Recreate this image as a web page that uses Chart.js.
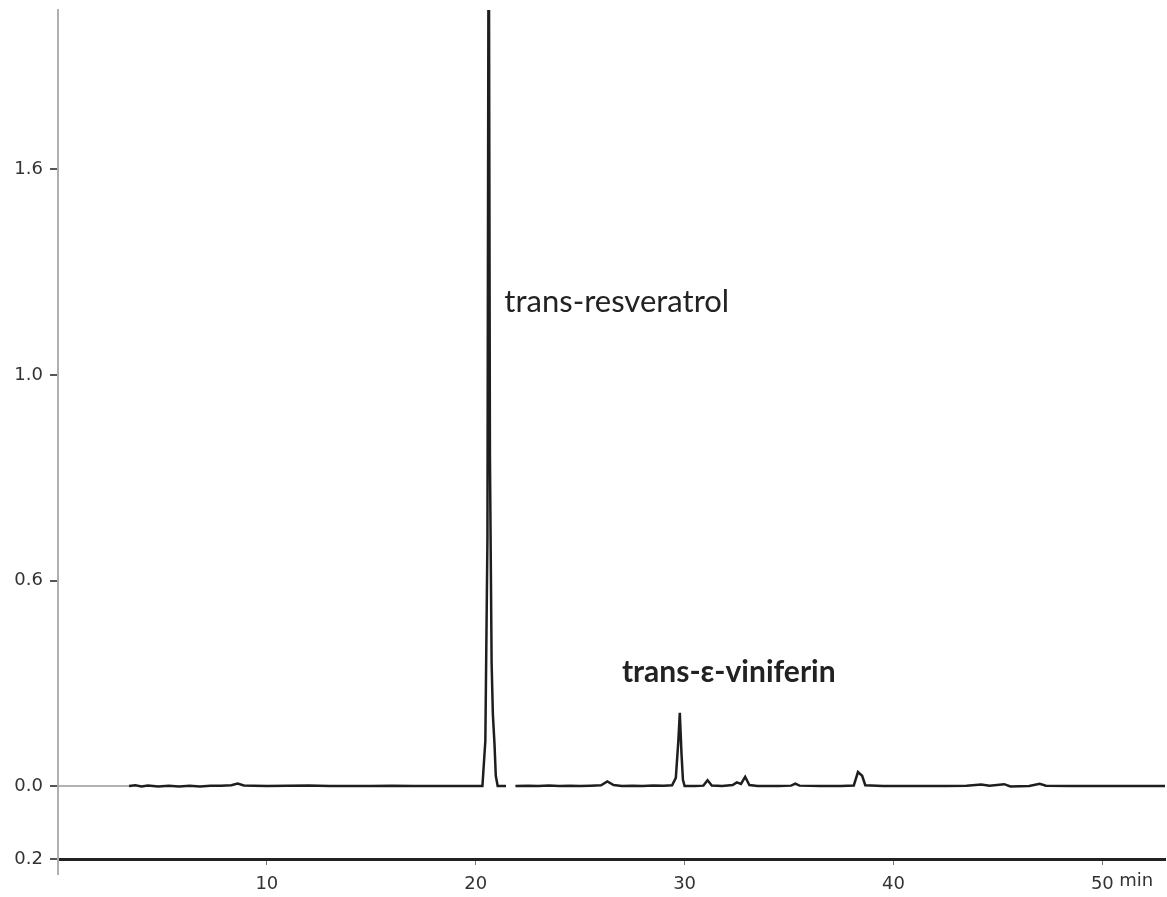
<!DOCTYPE html>
<html>
<head>
<meta charset="utf-8">
<script src="https://cdn.jsdelivr.net/npm/chart.js@4/dist/chart.umd.min.js"></script>
<style>
  body { margin: 0; background: #fff; }
  #wrap { width: 1167px; height: 897px; position: relative; }
</style>
</head>
<body>
<div id="wrap"><canvas id="chrom"></canvas></div>
<script>
// retention time (min) and detector signal, in y-axis divisions
// (the original axis is labelled 0.0 / 0.6 / 1.0 / 1.6 at equal spacing)
const timeMin = [
  3.4, 3.7, 4.0, 4.3, 4.8, 5.3, 5.8, 6.3, 6.8, 7.3, 7.8, 8.3, 8.6, 8.9, 9.4,
  10.0, 11.0, 12.0, 13.0, 14.0, 15.0, 16.0, 17.0, 18.0, 19.0, 20.0,
  20.32, 20.46, 20.56, 20.62, 20.68, 20.76, 20.82, 20.9, 20.96, 21.05, 21.45,
  21.65,
  21.9, 22.5, 23.0, 23.5, 24.0, 24.5, 25.0, 25.5, 26.0, 26.3, 26.6, 27.0, 27.5,
  28.0, 28.5, 29.0, 29.4, 29.58, 29.7, 29.77, 29.85, 29.92, 30.0, 30.5,
  30.9, 31.1, 31.3, 31.8, 32.3, 32.5, 32.7, 32.9, 33.1, 33.5, 34.5,
  35.1, 35.3, 35.5, 36.5, 37.5, 38.1, 38.3, 38.5, 38.65, 39.5, 41.0, 42.5,
  43.5, 44.2, 44.6, 45.3, 45.6, 46.5, 47.0, 47.3, 48.5, 50.0, 51.5, 53.0
];
const signal = [
  0.0, 0.004, -0.002, 0.003, -0.002, 0.002, -0.002, 0.002, -0.002, 0.002, 0.002, 0.004, 0.012, 0.003, 0.002,
  0.0, 0.002, 0.003, 0.0, 0.0, 0.0, 0.002, 0.0, 0.0, 0.0, 0.0,
  0.0, 0.22, 1.2, 4.6, 1.6, 0.6, 0.35, 0.2, 0.05, 0.0, 0.0,
  null,
  0.0, 0.002, 0.0, 0.003, 0.0, 0.002, 0.0, 0.002, 0.004, 0.022, 0.005, 0.0, 0.002,
  0.0, 0.003, 0.002, 0.004, 0.04, 0.22, 0.356, 0.16, 0.03, 0.0, 0.0,
  0.002, 0.028, 0.003, 0.0, 0.005, 0.018, 0.01, 0.045, 0.005, 0.0, 0.0,
  0.002, 0.012, 0.002, 0.0, 0.0, 0.003, 0.068, 0.05, 0.004, 0.0, 0.0, 0.0,
  0.002, 0.008, 0.002, 0.009, -0.002, 0.0, 0.011, 0.002, 0.0, 0.0, 0.0, 0.0
];
// grey baseline before the trace starts
const baseTime = [0, 3.4];
const baseSignal = [0, 0];

const xTicks = [10, 20, 30, 40, 50];
const yTickPos = [-0.355, 0, 1, 2, 3];
const yTickLabels = ['0.2', '0.0', '0.6', '1.0', '1.6'];

const peakLabels = [
  { text: 'trans-resveratrol', x: 21.37, y: 2.355, bold: false },
  { text: 'trans-\u03b5-viniferin', x: 27.0, y: 0.555, bold: true }
];

const extras = {
  id: 'extras',
  afterDraw(chart) {
    const { ctx, scales: { x, y }, chartArea } = chart;
    ctx.save();
    // y axis runs a little past the time axis
    ctx.strokeStyle = '#b0b0b0';
    ctx.lineWidth = 2;
    ctx.beginPath();
    ctx.moveTo(chartArea.left, chartArea.bottom);
    ctx.lineTo(chartArea.left, chartArea.bottom + 16);
    ctx.stroke();
    // unit after the last tick
    ctx.fillStyle = '#333';
    ctx.font = '18px "DejaVu Sans"';
    ctx.textBaseline = 'middle';
    ctx.textAlign = 'left';
    ctx.fillText('min', x.getPixelForValue(50) + 17, chartArea.bottom + 22);
    // peak names
    ctx.fillStyle = '#222';
    peakLabels.forEach(p => {
      ctx.font = (p.bold ? 'bold 30px' : '31px') + ' Lato, "Open Sans", sans-serif';
      ctx.fillText(p.text, x.getPixelForValue(p.x), y.getPixelForValue(p.y));
    });
    ctx.restore();
  }
};

new Chart(document.getElementById('chrom'), {
  type: 'line',
  data: {
    datasets: [
      {
        label: 'baseline',
        data: baseTime.map((t, i) => ({ x: t, y: baseSignal[i] })),
        borderColor: '#9a9a9a',
        borderWidth: 1.5,
        pointRadius: 0
      },
      {
        label: 'signal',
        data: timeMin.map((t, i) => ({ x: t, y: signal[i] })),
        borderColor: '#1e1e1e',
        borderWidth: 2.5,
        pointRadius: 0,
        tension: 0,
        spanGaps: false
      }
    ]
  },
  options: {
    responsive: true,
    maintainAspectRatio: false,
    animation: false,
    layout: { padding: { top: 10, right: 2, left: 0, bottom: 0 } },
    plugins: { legend: { display: false }, tooltip: { enabled: false } },
    scales: {
      x: {
        type: 'linear',
        min: 0,
        max: 53,
        afterBuildTicks: s => { s.ticks = xTicks.map(v => ({ value: v })); },
        afterFit: s => { s.height = 38; s.paddingLeft = 0; s.paddingRight = 0; },
        border: { color: '#222', width: 3 },
        grid: { drawOnChartArea: false, tickLength: 6, color: '#777', lineWidth: 1 },
        ticks: {
          color: '#333',
          font: { family: 'DejaVu Sans', size: 18 },
          padding: 9,
          maxRotation: 0
        }
      },
      y: {
        type: 'linear',
        min: -0.355,
        max: 3.776,
        afterBuildTicks: s => { s.ticks = yTickPos.map(v => ({ value: v })); },
        afterFit: s => { s.width = 58; s.paddingTop = 0; s.paddingBottom = 0; },
        border: { color: '#b0b0b0', width: 2 },
        grid: { drawOnChartArea: false, tickLength: 8, color: '#555', lineWidth: 2 },
        ticks: {
          color: '#333',
          font: { family: 'DejaVu Sans', size: 18 },
          padding: 7,
          callback: (v, i) => yTickLabels[i]
        }
      }
    }
  },
  plugins: [extras]
});
</script>
</body>
</html>
